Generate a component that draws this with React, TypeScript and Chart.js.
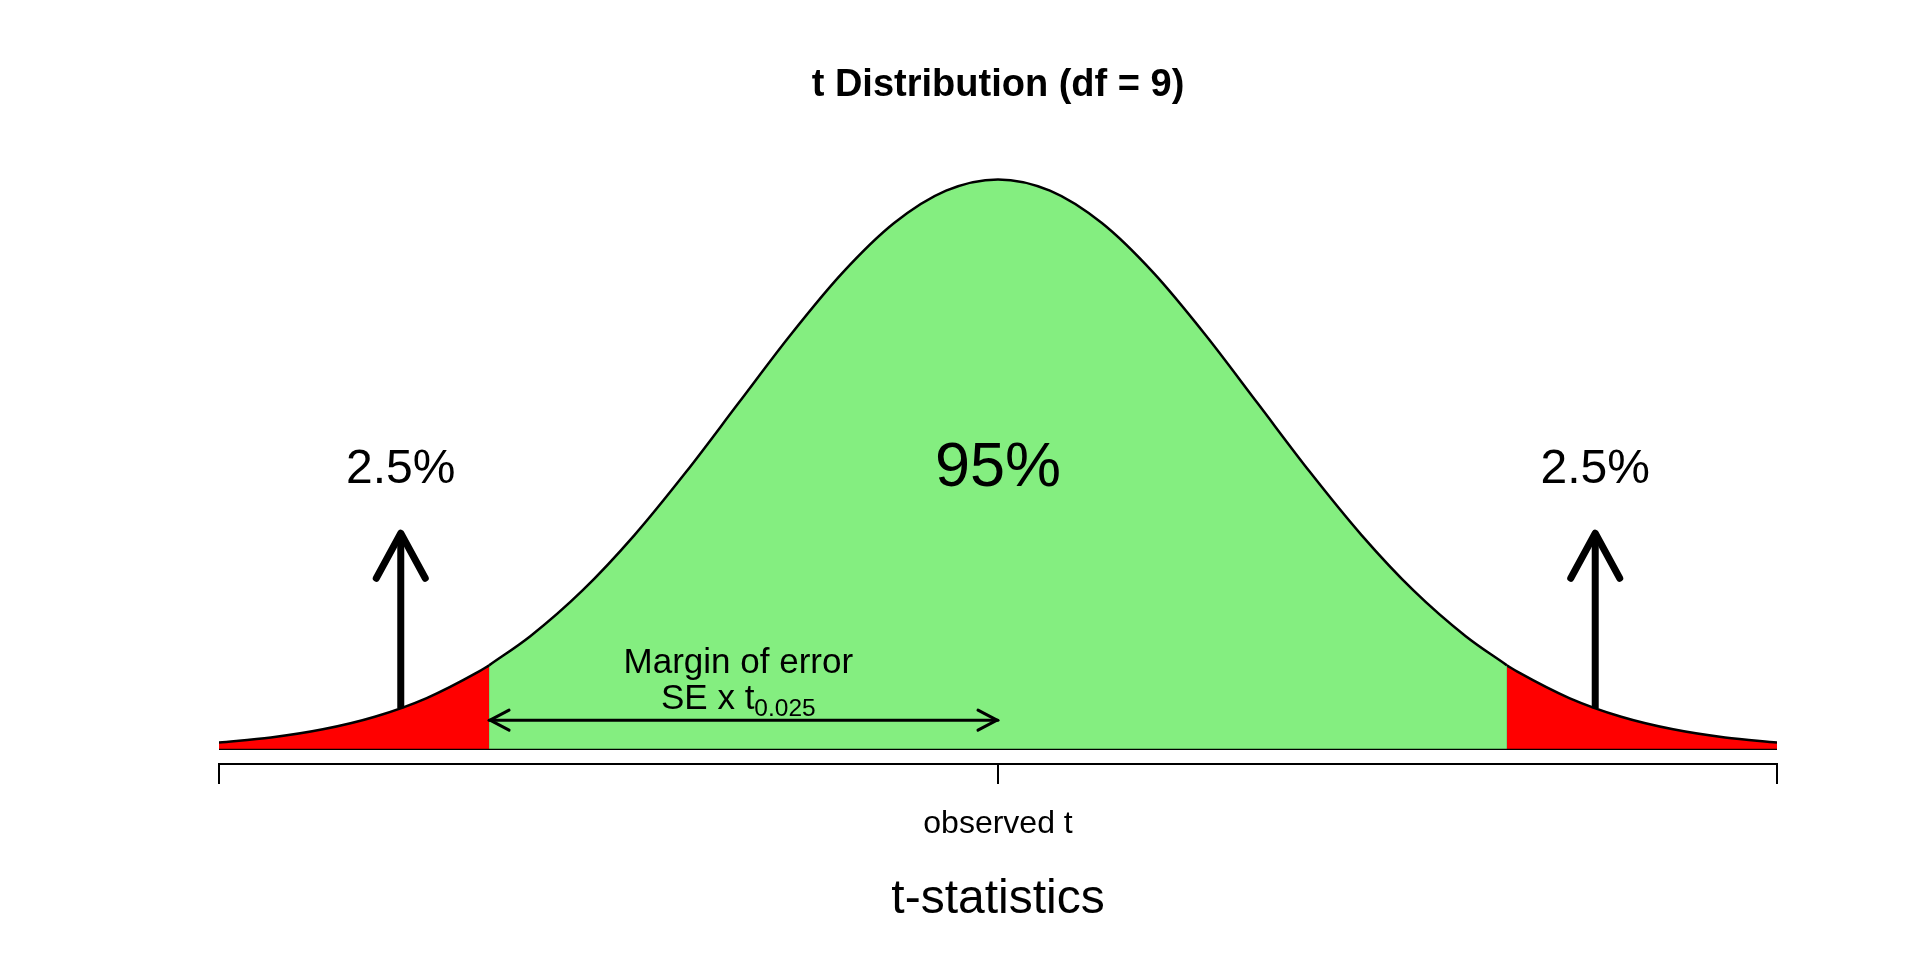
import React, { useEffect, useRef } from "react";
import { Chart, registerables } from "chart.js";

Chart.register(...registerables);

// Density curve values (standard bell curve, x in SE units)
const leftTailX = [-3.0, -2.8, -2.6, -2.4, -2.2, -2.0, -1.96];
const leftTailY = [0.0044, 0.0079, 0.0136, 0.0224, 0.0355, 0.054, 0.0584];
const centerX = [
  -1.96, -1.8, -1.6, -1.4, -1.2, -1.0, -0.8, -0.6, -0.4, -0.2, 0.0,
  0.2, 0.4, 0.6, 0.8, 1.0, 1.2, 1.4, 1.6, 1.8, 1.96,
];
const centerY = [
  0.0584, 0.079, 0.1109, 0.1497, 0.1942, 0.242, 0.2897, 0.3332, 0.3683, 0.391, 0.3989,
  0.391, 0.3683, 0.3332, 0.2897, 0.242, 0.1942, 0.1497, 0.1109, 0.079, 0.0584,
];
const rightTailX = [1.96, 2.0, 2.2, 2.4, 2.6, 2.8, 3.0];
const rightTailY = [0.0584, 0.054, 0.0355, 0.0224, 0.0136, 0.0079, 0.0044];

const criticalX = [-1.96, 1.96];
const criticalY = [0.0584, 0.0584];
const edgeX = [-3.0, 3.0];
const edgeY = [0.0044, 0.0044];

const tickValues = [-3, 0, 3];
const tickLabels = ["", "observed t", ""];

const arrowX = [-2.3, 2.3];
const arrowBaseY = [0.0283, 0.0283];
const arrowTipY = 0.151;
const tailLabels = ["2.5%", "2.5%"];
const centerLabel = "95%";
const marginArrowX = [-1.96, 0];
const marginArrowY = 0.02;
const marginLabelX = -1.0;

const GREEN = "#84EE80";
const RED = "#FF0000";
const FONT = "'Liberation Sans', Arial, Helvetica, sans-serif";

const pts = (xs: number[], ys: number[]) => xs.map((x, i) => ({ x, y: ys[i] }));

const annotationPlugin = {
  id: "annotations",
  afterDatasetsDraw(chart: any) {
    const { ctx, scales } = chart;
    const x = scales.x;
    const y = scales.y;
    ctx.save();
    ctx.strokeStyle = "#000";
    ctx.fillStyle = "#000";

    // Up arrows in the tails
    for (let i = 0; i < arrowX.length; i++) {
      const px = x.getPixelForValue(arrowX[i]);
      const y0 = y.getPixelForValue(arrowBaseY[i]);
      const y1 = y.getPixelForValue(arrowTipY);
      ctx.lineWidth = 7;
      ctx.lineCap = "butt";
      ctx.beginPath();
      ctx.moveTo(px, y0);
      ctx.lineTo(px, y1 + 3);
      ctx.stroke();
      ctx.lineCap = "round";
      ctx.lineJoin = "round";
      ctx.beginPath();
      ctx.moveTo(px - 24.5, y1 + 45);
      ctx.lineTo(px, y1);
      ctx.lineTo(px + 24.5, y1 + 45);
      ctx.stroke();

      ctx.font = `48px ${FONT}`;
      ctx.textAlign = "center";
      ctx.textBaseline = "alphabetic";
      ctx.fillText(tailLabels[i], px, y1 - 50);
    }

    // 95% label
    ctx.font = `63px ${FONT}`;
    ctx.textAlign = "center";
    ctx.fillText(centerLabel, x.getPixelForValue(0), y.getPixelForValue(arrowTipY) - 47);

    // Margin of error double arrow
    const mx0 = x.getPixelForValue(marginArrowX[0]);
    const mx1 = x.getPixelForValue(marginArrowX[1]);
    const my = y.getPixelForValue(marginArrowY);
    ctx.lineWidth = 3;
    ctx.lineCap = "round";
    ctx.lineJoin = "round";
    ctx.beginPath();
    ctx.moveTo(mx0, my);
    ctx.lineTo(mx1, my);
    ctx.stroke();
    ctx.beginPath();
    ctx.moveTo(mx0 + 20, my - 10);
    ctx.lineTo(mx0 + 1, my);
    ctx.lineTo(mx0 + 20, my + 10);
    ctx.stroke();
    ctx.beginPath();
    ctx.moveTo(mx1 - 20, my - 10);
    ctx.lineTo(mx1 - 1, my);
    ctx.lineTo(mx1 - 20, my + 10);
    ctx.stroke();

    // Margin of error text
    const cx = x.getPixelForValue(marginLabelX);
    ctx.font = `35px ${FONT}`;
    ctx.textAlign = "center";
    ctx.fillText("Margin of error", cx, my - 47);
    const main = "SE x t";
    const sub = "0.025";
    ctx.font = `35px ${FONT}`;
    const wMain = ctx.measureText(main).width;
    ctx.font = `24.5px ${FONT}`;
    const wSub = ctx.measureText(sub).width;
    const startX = cx - (wMain + wSub) / 2;
    ctx.textAlign = "left";
    ctx.font = `35px ${FONT}`;
    ctx.fillText(main, startX, my - 11);
    ctx.font = `24.5px ${FONT}`;
    ctx.fillText(sub, startX + wMain, my - 4);

    ctx.restore();
  },
};

export default function App() {
  const canvasRef = useRef<HTMLCanvasElement | null>(null);

  useEffect(() => {
    document.body.style.margin = "0";
    const canvas = canvasRef.current;
    if (!canvas) return;

    const curveCommon = {
      borderColor: "#000",
      borderWidth: 2.5,
      pointRadius: 0,
      cubicInterpolationMode: "monotone" as const,
      fill: "origin",
    };
    const edgeCommon = {
      borderColor: "#000",
      borderWidth: 2.5,
      pointRadius: 0,
      tension: 0,
      fill: false,
    };

    const datasets: any[] = [
      { ...curveCommon, data: pts(leftTailX, leftTailY), backgroundColor: RED },
      { ...curveCommon, data: pts(centerX, centerY), backgroundColor: GREEN },
      { ...curveCommon, data: pts(rightTailX, rightTailY), backgroundColor: RED },
      { ...edgeCommon, data: [{ x: edgeX[0], y: 0 }, { x: edgeX[1], y: 0 }] },
    ];
    criticalX.forEach((cx, i) => {
      datasets.push({ ...edgeCommon, data: [{ x: cx, y: 0 }, { x: cx, y: criticalY[i] }] });
    });
    edgeX.forEach((ex, i) => {
      datasets.push({ ...edgeCommon, data: [{ x: ex, y: 0 }, { x: ex, y: edgeY[i] }] });
    });

    const chart = new Chart(canvas, {
      type: "line",
      data: { datasets },
      options: {
        animation: false,
        responsive: true,
        maintainAspectRatio: false,
        layout: { padding: { left: 219, right: 143, top: 0, bottom: 31 } },
        plugins: {
          legend: { display: false },
          tooltip: { enabled: false },
          title: {
            display: true,
            text: "t Distribution (df = 9)",
            color: "#000",
            font: { family: FONT, size: 38, weight: "bold" },
            padding: { top: 63, bottom: 0 },
          },
        },
        scales: {
          x: {
            type: "linear",
            min: -3,
            max: 3,
            afterBuildTicks: (scale: any) => {
              scale.ticks = tickValues.map((v) => ({ value: v }));
            },
            ticks: {
              autoSkip: false,
              maxRotation: 0,
              color: "#000",
              padding: 21,
              font: { family: FONT, size: 32 },
              callback: (value: any) => {
                const idx = tickValues.indexOf(Number(value));
                return idx >= 0 ? tickLabels[idx] : "";
              },
            },
            grid: {
              display: true,
              drawOnChartArea: false,
              drawTicks: true,
              tickLength: 20,
              color: "#000",
              lineWidth: 2,
            },
            border: { display: true, color: "#000", width: 2 },
            title: {
              display: true,
              text: "t-statistics",
              color: "#000",
              font: { family: FONT, size: 48 },
              padding: { top: 7, bottom: 0 },
            },
          },
          y: {
            type: "linear",
            display: false,
            min: -0.0107,
            max: 0.4485,
          },
        },
      },
      plugins: [annotationPlugin],
    });

    return () => chart.destroy();
  }, []);

  return (
    <div style={{ width: "1920px", height: "960px", position: "relative", background: "#fff" }}>
      <canvas ref={canvasRef} />
    </div>
  );
}
